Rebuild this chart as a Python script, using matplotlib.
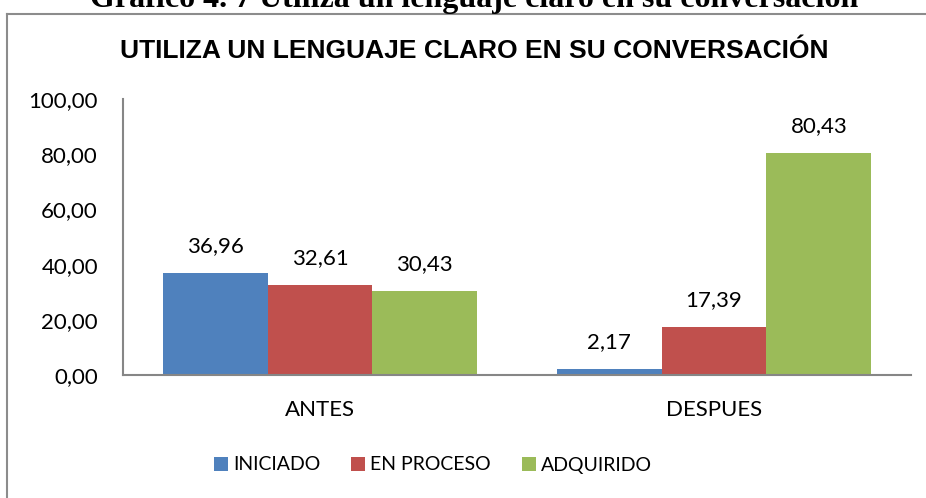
import matplotlib
matplotlib.use('Agg')
import matplotlib.pyplot as plt
from matplotlib.lines import Line2D
import numpy as np

# datos del grafico
categorias = ['ANTES', 'DESPUES']
series = ['INICIADO', 'EN PROCESO', 'ADQUIRIDO']
iniciado = [36.96, 2.17]
en_proceso = [32.61, 17.39]
adquirido = [30.43, 80.43]
y_ticks = [0, 20, 40, 60, 80, 100]

colores = ['#4F81BD', '#C0504D', '#9BBB59']
fuente = 'Lato'

def coma(v):
    return ('%.2f' % v).replace('.', ',')

fig = plt.figure(figsize=(9.26, 4.98), dpi=100)
W, H = 926.0, 498.0
ax = fig.add_axes([123 / W, 1 - 375 / H, (911 - 123) / W, (375 - 99) / H])

x = np.arange(len(categorias))
ancho = 0.266
for i, (vals, nombre) in enumerate(zip([iniciado, en_proceso, adquirido], series)):
    barras = ax.bar(x + (i - 1) * ancho, vals, ancho, color=colores[i], label=nombre)
    for b, v in zip(barras, vals):
        ax.annotate(coma(v), (b.get_x() + b.get_width() / 2, v), xytext=(0, 12),
                    textcoords='offset points', ha='center', va='bottom',
                    fontsize=16, family=fuente, color='black')

ax.set_xlim(-0.5, 1.5)
ax.set_ylim(0, 100)
ax.set_yticks(y_ticks)
ax.set_yticklabels([coma(t) for t in y_ticks], family=fuente, fontsize=16)
ax.set_xticks(x)
ax.set_xticklabels(categorias, family=fuente, fontsize=16)
ax.tick_params(axis='y', length=0, pad=18)
ax.tick_params(axis='x', length=0, pad=18)
for s in ['top', 'right']:
    ax.spines[s].set_visible(False)
for s in ['left', 'bottom']:
    ax.spines[s].set_color('#868686')
    ax.spines[s].set_linewidth(1.5)

# titulo del grafico
fig.text(474.5 / W, 1 - 51 / H, 'UTILIZA UN LENGUAJE CLARO EN SU CONVERSACIÓN',
         ha='center', va='center', family='Liberation Sans', weight='bold', fontsize=19)

# pie de figura recortado arriba
fig.text(474.5 / W, 1 - 7 / H, 'Gráfico 4. 7 Utiliza un lenguaje claro en su conversación',
         ha='center', va='baseline', family='Liberation Serif', weight='bold', fontsize=23)

# marco del grafico
fig.add_artist(Line2D([6.5 / W, 1], [1 - 14.5 / H, 1 - 14.5 / H], color='#8c8c8c', lw=1.5))
fig.add_artist(Line2D([6.5 / W, 6.5 / W], [0, 1 - 14.5 / H], color='#8c8c8c', lw=1.5))

fig.legend(loc='center', bbox_to_anchor=(433 / W, 1 - 465 / H), ncol=3, frameon=False,
           handlelength=0.72, handleheight=0.72, handletextpad=0.26, columnspacing=1.6,
           prop={'family': fuente, 'size': 14})

fig.savefig('out.png', dpi=100)
